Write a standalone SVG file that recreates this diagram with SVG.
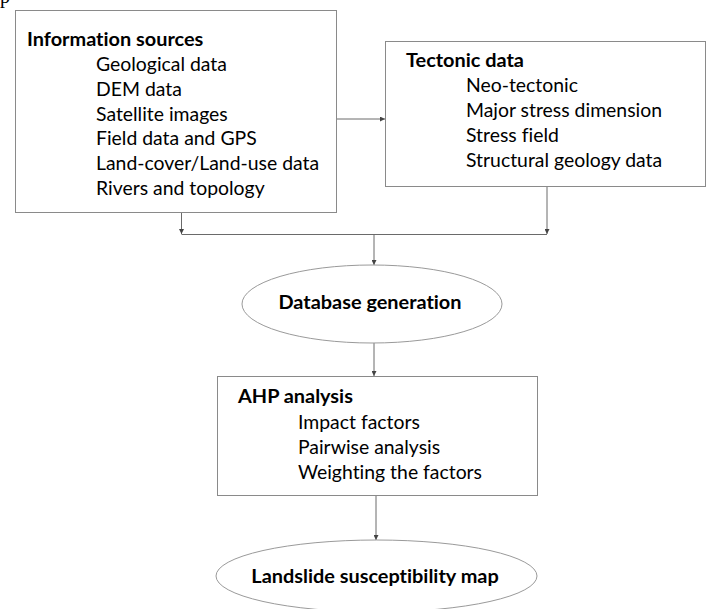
<svg xmlns="http://www.w3.org/2000/svg" width="708" height="609" viewBox="0 0 708 609">
<style>
.box{fill:#fff;stroke:#8a8a8a;stroke-width:1}
.ell{fill:#fff;stroke:#9a9a9a;stroke-width:1}
.c{fill:none;stroke:#6a6a6a;stroke-width:1}
text{font-family:Lato,"Open Sans",sans-serif;font-size:19.4px;fill:#000;font-variant-ligatures:none}
.h{font-weight:bold;font-size:19.9px}
</style>
<defs>
<marker id="a" viewBox="0 0 6 6" refX="6" refY="3" markerWidth="5" markerHeight="5" orient="auto" markerUnits="userSpaceOnUse">
<path d="M0,0 L6,3 L0,6 z" fill="#444"/>
</marker>
</defs>
<rect width="708" height="609" fill="#fff"/>
<text x="0" y="3" style="font-family:'Liberation Serif',serif;font-size:20px">p</text>
<g id="connectors">
<line class="c" x1="336" y1="119" x2="385" y2="119" marker-end="url(#a)"/>
<line class="c" x1="181.5" y1="212" x2="181.5" y2="234" marker-end="url(#a)"/>
<line class="c" x1="547" y1="187" x2="547" y2="234" marker-end="url(#a)"/>
<line class="c" x1="181.5" y1="234.5" x2="547" y2="234.5"/>
<line class="c" x1="374" y1="234.5" x2="374" y2="265" marker-end="url(#a)"/>
<line class="c" x1="374" y1="343" x2="374" y2="376" marker-end="url(#a)"/>
<line class="c" x1="376" y1="495" x2="376" y2="540" marker-end="url(#a)"/>
</g>
<g id="info">
<rect class="box" x="15.5" y="10.5" width="321" height="202"/>
<text class="h" x="27" y="46">Information sources</text>
<text x="96" y="71">Geological data</text>
<text x="96" y="96">DEM data</text>
<text x="96" y="120.5">Satellite images</text>
<text x="96" y="145">Field data and GPS</text>
<text x="96" y="170">Land-cover/Land-use data</text>
<text x="96" y="195">Rivers and topology</text>
</g>
<g id="tectonic">
<rect class="box" x="385.5" y="41.5" width="320" height="145"/>
<text class="h" x="406" y="67">Tectonic data</text>
<text x="466" y="92">Neo-tectonic</text>
<text x="466" y="117">Major stress dimension</text>
<text x="466" y="142">Stress field</text>
<text x="466" y="167">Structural geology data</text>
</g>
<g id="database">
<ellipse class="ell" cx="372" cy="304" rx="130" ry="39"/>
<text class="h" x="370" y="309" text-anchor="middle">Database generation</text>
</g>
<g id="ahp">
<rect class="box" x="217.5" y="376.5" width="320" height="119"/>
<text class="h" x="238" y="403">AHP analysis</text>
<text x="298" y="429">Impact factors</text>
<text x="298" y="454">Pairwise analysis</text>
<text x="298" y="479">Weighting the factors</text>
</g>
<g id="map">
<ellipse class="ell" cx="376.5" cy="576" rx="160.5" ry="36"/>
<text class="h" x="375" y="583" text-anchor="middle">Landslide susceptibility map</text>
</g>
</svg>
